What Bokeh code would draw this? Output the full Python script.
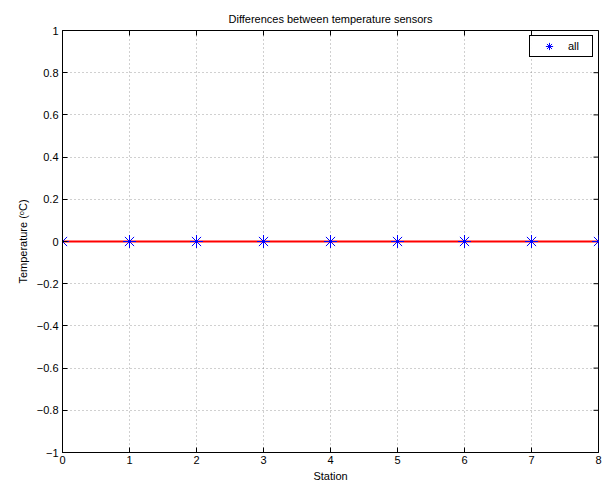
from bokeh.plotting import figure
from bokeh.models import Range1d, FixedTicker, Legend, LegendItem
from bokeh.embed import file_html
from bokeh.resources import INLINE

stations = [0, 1, 2, 3, 4, 5, 6, 7, 8]
diff_all = [0, 0, 0, 0, 0, 0, 0, 0, 0]
ref_x = [0, 8]
ref_y = [0, 0]
y_ticks = [-1, -0.8, -0.6, -0.4, -0.2, 0, 0.2, 0.4, 0.6, 0.8, 1]
y_tick_labels = ["\u22121", "\u22120.8", "\u22120.6", "\u22120.4", "\u22120.2", "0",
                 "0.2", "0.4", "0.6", "0.8", "1"]
x_ticks = [0, 1, 2, 3, 4, 5, 6, 7, 8]
x_min, x_max = 0, 8
y_min, y_max = -1, 1

FONT = "Liberation Sans"

p = figure(width=608, height=484, output_backend="svg", toolbar_location=None,
           x_range=Range1d(x_min, x_max), y_range=Range1d(y_min, y_max),
           min_border_left=62, min_border_right=10, min_border_top=30, min_border_bottom=32,
           title="Differences between temperature sensors")
p.title.text_font = FONT
p.title.text_font_size = "11px"
p.title.text_font_style = "normal"
p.title.text_color = "black"
p.title.align = "center"
p.title.standoff = 11
p.outline_line_color = "black"
p.outline_line_width = 1
p.outline_line_alpha = 1
p.background_fill_color = "white"
p.border_fill_color = "white"

for ax in (p.xaxis[0], p.yaxis[0]):
    ax.major_tick_in = 5
    ax.major_tick_out = 0
    ax.minor_tick_in = 0
    ax.minor_tick_out = 0
    ax.major_label_text_font = FONT
    ax.major_label_text_font_size = "11px"
    ax.major_label_text_color = "black"
    ax.axis_label_text_font = FONT
    ax.axis_label_text_font_size = "11px"
    ax.axis_label_text_font_style = "normal"
    ax.axis_label_text_color = "black"
    ax.axis_line_color = "black"
    ax.major_tick_line_color = "black"

p.xaxis[0].ticker = FixedTicker(ticks=x_ticks)
p.yaxis[0].ticker = FixedTicker(ticks=y_ticks)
p.yaxis[0].major_label_overrides = {t: l for t, l in zip(y_ticks, y_tick_labels)}
p.xaxis[0].axis_label = "Station"
p.yaxis[0].axis_label = "Temperature (\u1d52C)"
p.xaxis[0].major_label_standoff = 3
p.xaxis[0].axis_label_standoff = 3
p.yaxis[0].major_label_standoff = 4
p.yaxis[0].axis_label_standoff = 5

p.xgrid.ticker = FixedTicker(ticks=x_ticks)
p.ygrid.ticker = FixedTicker(ticks=y_ticks)
for g in (p.xgrid[0], p.ygrid[0]):
    g.grid_line_color = "#808080"
    g.grid_line_dash = "1 3"
    g.grid_line_alpha = 0.75

# top and right inward ticks (MATLAB box style)
p.scatter(x_ticks, [y_max] * len(x_ticks), marker="dash", angle=1.5708, size=10,
          line_color="black", line_width=1)
p.scatter([x_max] * len(y_ticks), y_ticks, marker="dash", size=10,
          line_color="black", line_width=1)

p.line(ref_x, ref_y, line_color="red", line_width=2)
r = p.scatter(stations, diff_all, marker="asterisk", size=13, line_color="blue",
              line_width=1)

legend = Legend(items=[LegendItem(label="all", renderers=[r])], location="top_right")
legend.label_text_font = FONT
legend.label_text_font_size = "11px"
legend.label_text_color = "black"
legend.border_line_color = "black"
legend.border_line_width = 1
legend.border_line_alpha = 1
legend.margin = 5
legend.padding = 1
legend.spacing = 0
legend.glyph_width = 36
legend.glyph_height = 18
legend.label_standoff = 1
legend.label_width = 23
legend.label_height = 18
p.add_layout(legend, "center")

open("out.html", "w").write(file_html(p, INLINE))
